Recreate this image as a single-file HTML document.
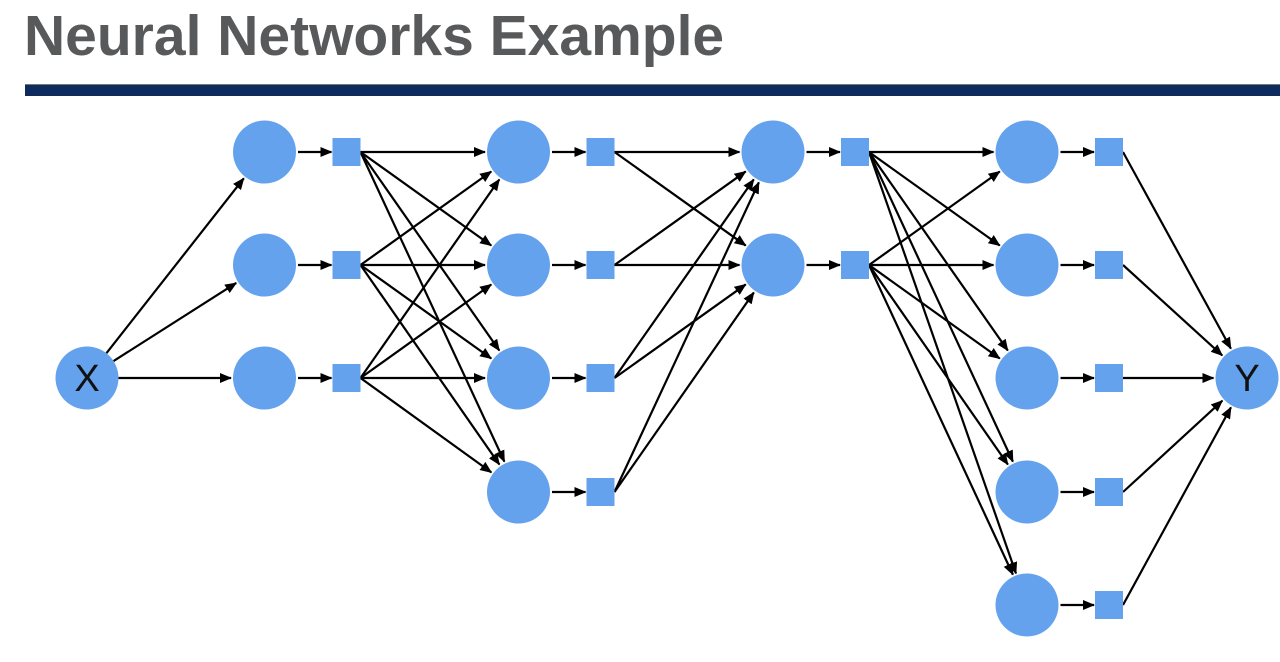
<!DOCTYPE html>
<html><head><meta charset="utf-8"><style>
body{margin:0;width:1280px;height:662px;background:#fff;overflow:hidden;position:relative;font-family:"Liberation Sans",sans-serif}
h1{position:absolute;left:24px;top:3px;margin:0;font-size:57px;line-height:66px;font-weight:bold;color:#58595b;letter-spacing:0px}
#bar{position:absolute;left:25px;top:84px;width:1260px;height:11px;background:#0f2a5c;border-top:1px solid #777}
svg{position:absolute;left:0;top:0}
</style></head><body>
<h1>Neural Networks Example</h1>
<div id="bar"></div>
<svg id="s" width="1280" height="662" xmlns="http://www.w3.org/2000/svg">
<defs><marker id="a" markerWidth="12" markerHeight="10" refX="11" refY="5" orient="auto" markerUnits="userSpaceOnUse"><path d="M0,0 L12,5 L0,10 z" fill="#000"/></marker></defs>
<g id="e" stroke="#000" stroke-width="2.2" fill="none"></g>
<g id="n" fill="#64a2ee"></g>
</svg>
<script>
var R=31.5,S=28,ys=[152,265,378,492,605];
var layers=[[264.5,3],[518.5,4],[773,2],[1027,5]];
var e=document.getElementById('e'),n=document.getElementById('n'),NS='http://www.w3.org/2000/svg';
function el(p,t,a){var x=document.createElementNS(NS,t);for(var k in a)x.setAttribute(k,a[k]);p.appendChild(x);return x;}
function arrow(x1,y1,cx,cy){var dx=cx-x1,dy=cy-y1,d=Math.hypot(dx,dy);var x2=cx-dx/d*(R+2),y2=cy-dy/d*(R+2);
el(e,'line',{x1:x1,y1:y1,x2:x2,y2:y2,'marker-end':'url(#a)'});}
var X=[87,378],Y=[1247,378];
for(var i=0;i<3;i++)arrow(X[0]+R*Math.cos(Math.atan2(ys[i]-378,177)),378+R*Math.sin(Math.atan2(ys[i]-378,177)),264.5,ys[i]);
for(var l=0;l<4;l++){var cx=layers[l][0],c=layers[l][1],sx=cx+82;
 for(var i=0;i<c;i++){
  el(n,'circle',{cx:cx,cy:ys[i],r:R});
  el(n,'rect',{x:sx-S/2,y:ys[i]-S/2,width:S,height:S});
  el(e,'line',{x1:cx+R+2,y1:ys[i],x2:sx-S/2-1,y2:ys[i],'marker-end':'url(#a)'});
  if(l<3){var nx=layers[l+1][0];for(var j=0;j<layers[l+1][1];j++)arrow(sx+S/2,ys[i],nx,ys[j]);}
  else arrow(sx+S/2,ys[i],Y[0],Y[1]);
 }}
el(n,'circle',{cx:X[0],cy:X[1],r:R});el(n,'circle',{cx:Y[0],cy:Y[1],r:R});
var t=el(document.getElementById('s'),'text',{x:X[0],y:X[1]+13,'text-anchor':'middle','font-size':'38','font-family':'Liberation Sans, sans-serif',fill:'#111'});t.textContent='X';
t=el(document.getElementById('s'),'text',{x:Y[0],y:Y[1]+13,'text-anchor':'middle','font-size':'38','font-family':'Liberation Sans, sans-serif',fill:'#111'});t.textContent='Y';
</script>
</body></html>
